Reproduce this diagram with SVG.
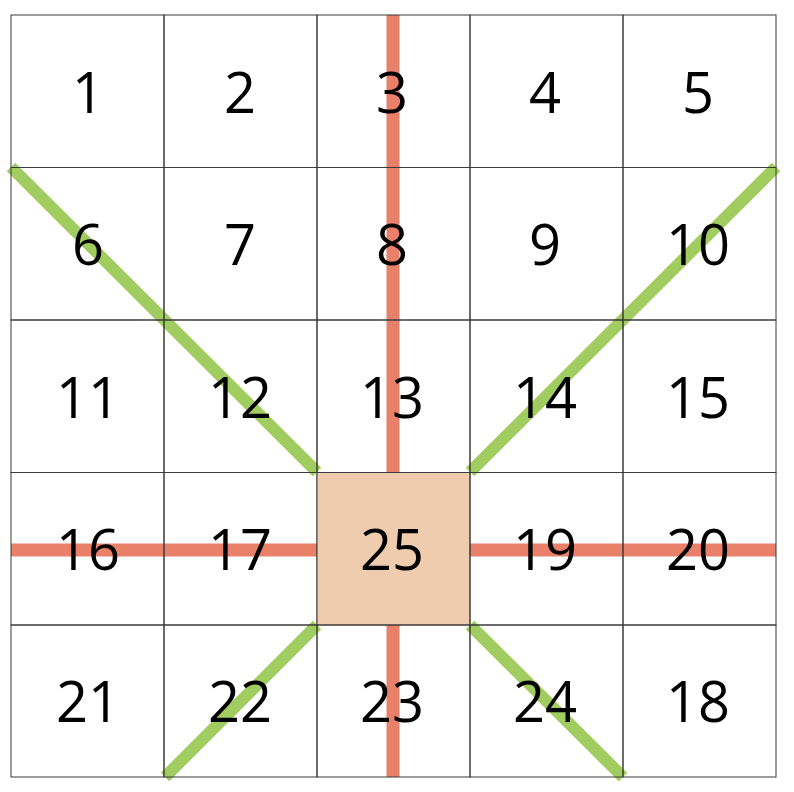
<svg xmlns="http://www.w3.org/2000/svg" width="794" height="792" viewBox="0 0 794 792">
<style>
.cell{fill:none;stroke:#3a3a3a;stroke-width:1}
.hub{fill:#F0CCAF;stroke:#3a3a3a;stroke-width:1}
.t{font-family:"Open Sans","Noto Sans",sans-serif;font-size:56px;fill:#000;text-anchor:middle}
.red{stroke:#E8806A;stroke-width:13;fill:none}
.grn{stroke:#A0CC60;stroke-width:12;fill:none}
</style>
<rect width="794" height="792" fill="#fff"/>
<g id="connectors">
<line class="red" x1="393" y1="15" x2="393" y2="777"/>
<line class="red" x1="11" y1="550" x2="776" y2="550"/>
<line class="grn" x1="11" y1="167" x2="317" y2="472"/>
<line class="grn" x1="776" y1="167" x2="470" y2="472"/>
<line class="grn" x1="317" y1="625" x2="165" y2="777"/>
<line class="grn" x1="470" y1="625" x2="623" y2="777"/>
</g>
<g id="c1"><rect class="cell" x="11" y="15" width="153" height="152.5"/><text class="t" x="88" y="113">1</text></g>
<g id="c2"><rect class="cell" x="164" y="15" width="153" height="152.5"/><text class="t" x="240" y="113">2</text></g>
<g id="c3"><rect class="cell" x="317" y="15" width="153" height="152.5"/><text class="t" x="392" y="113">3</text></g>
<g id="c4"><rect class="cell" x="470" y="15" width="153" height="152.5"/><text class="t" x="545" y="113">4</text></g>
<g id="c5"><rect class="cell" x="623" y="15" width="153" height="152.5"/><text class="t" x="698" y="113">5</text></g>
<g id="c6"><rect class="cell" x="11" y="167.5" width="153" height="152.5"/><text class="t" x="88" y="265">6</text></g>
<g id="c7"><rect class="cell" x="164" y="167.5" width="153" height="152.5"/><text class="t" x="240" y="265">7</text></g>
<g id="c8"><rect class="cell" x="317" y="167.5" width="153" height="152.5"/><text class="t" x="392" y="265">8</text></g>
<g id="c9"><rect class="cell" x="470" y="167.5" width="153" height="152.5"/><text class="t" x="545" y="265">9</text></g>
<g id="c10"><rect class="cell" x="623" y="167.5" width="153" height="152.5"/><text class="t" x="698" y="265">10</text></g>
<g id="c11"><rect class="cell" x="11" y="320" width="153" height="152.5"/><text class="t" x="88" y="418">11</text></g>
<g id="c12"><rect class="cell" x="164" y="320" width="153" height="152.5"/><text class="t" x="240" y="418">12</text></g>
<g id="c13"><rect class="cell" x="317" y="320" width="153" height="152.5"/><text class="t" x="392" y="418">13</text></g>
<g id="c14"><rect class="cell" x="470" y="320" width="153" height="152.5"/><text class="t" x="545" y="418">14</text></g>
<g id="c15"><rect class="cell" x="623" y="320" width="153" height="152.5"/><text class="t" x="698" y="418">15</text></g>
<g id="c16"><rect class="cell" x="11" y="472.5" width="153" height="152.5"/><text class="t" x="88" y="570">16</text></g>
<g id="c17"><rect class="cell" x="164" y="472.5" width="153" height="152.5"/><text class="t" x="240" y="570">17</text></g>
<g id="c25"><rect class="hub" x="317" y="472.5" width="153" height="152.5"/><text class="t" x="392" y="570">25</text></g>
<g id="c19"><rect class="cell" x="470" y="472.5" width="153" height="152.5"/><text class="t" x="545" y="570">19</text></g>
<g id="c20"><rect class="cell" x="623" y="472.5" width="153" height="152.5"/><text class="t" x="698" y="570">20</text></g>
<g id="c21"><rect class="cell" x="11" y="625" width="153" height="152"/><text class="t" x="88" y="722">21</text></g>
<g id="c22"><rect class="cell" x="164" y="625" width="153" height="152"/><text class="t" x="240" y="722">22</text></g>
<g id="c23"><rect class="cell" x="317" y="625" width="153" height="152"/><text class="t" x="392" y="722">23</text></g>
<g id="c24"><rect class="cell" x="470" y="625" width="153" height="152"/><text class="t" x="545" y="722">24</text></g>
<g id="c18"><rect class="cell" x="623" y="625" width="153" height="152"/><text class="t" x="698" y="722">18</text></g>
</svg>
